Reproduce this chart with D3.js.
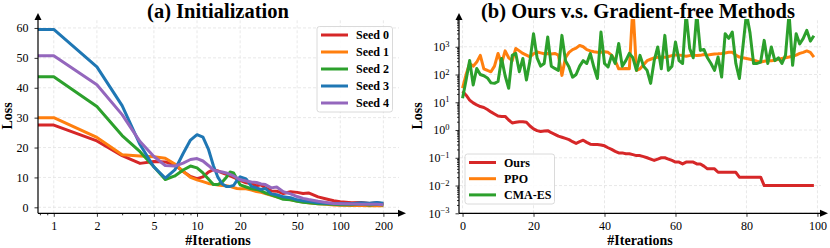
<!DOCTYPE html>
<html>
<head>
<meta charset="utf-8">
<script src="https://cdn.jsdelivr.net/npm/d3@7"></script>
<style>
  body { margin: 0; background: #fff; }
  svg text { font-family: "Liberation Serif", "Times New Roman", serif; fill: #000; }
</style>
</head>
<body>
<div id="chart"></div>
<script>
// ---------- Data: (a) Initialization ----------
const seedIters = [0, 1, 2, 3, 4, 5, 6, 7, 8, 9, 10, 11, 12, 13, 14, 15, 16, 17, 18, 19, 20,
  22, 24, 26, 28, 30, 33, 36, 40, 45, 50, 55, 60, 70, 80, 90, 100, 120, 140, 160, 180, 200];
const seed0 = [27.5, 27.5, 22.2, 17.3, 14.7, 15.3, 15.2, 14.2, 12, 10.3, 9.6, 10.2, 11.8, 12.6, 12.2, 11.5, 11, 10.5, 10, 9.5, 9,
  8.2, 8, 7.2, 7.5, 6.5, 5.5, 5.4, 4.6, 5.2, 5, 4.6, 4.8, 3.5, 2.8, 2.2, 1.9, 1.5, 1.6, 1.3, 1.5, 1.2];
const seed1 = [30, 30, 23.4, 17.6, 17.2, 16.9, 16.4, 14.5, 12, 10, 9.2, 8.6, 8, 7.7, 7.5, 7.3, 7.2, 7, 6.6, 6.3, 6.2,
  6.2, 5.8, 5.3, 5, 4.6, 4, 3.5, 3, 2.5, 2.1, 1.8, 1.5, 1.2, 1, 0.8, 0.7, 0.6, 0.6, 0.5, 0.5, 0.5];
const seed2 = [43.7, 43.7, 33.7, 24, 18.6, 13.6, 9.3, 10.5, 12.5, 13.8, 13.2, 11.5, 9.5, 7.6, 7.6, 8.5, 10, 11.8, 11.5, 9.5, 7.5,
  6.8, 6.2, 6, 5.5, 4.8, 4.2, 3.5, 2.7, 2.5, 2, 1.7, 1.5, 1.2, 1.1, 1, 0.9, 0.9, 1.1, 0.8, 1, 0.8];
const seed3 = [59.5, 59.5, 47, 34, 21, 13.5, 9.8, 12.5, 18, 22.5, 24.3, 23.5, 19.5, 14, 10, 7.8, 7, 7, 7.3, 9, 10.2,
  9.5, 7, 6.5, 6, 6.3, 4.5, 4.2, 3.5, 3.2, 2.5, 2.2, 2, 1.5, 1.4, 1.2, 1.3, 1.2, 1.5, 1.4, 1.6, 1.4];
const seed4 = [50.7, 50.7, 41, 31, 22, 17, 14, 13.8, 14.8, 16, 16.3, 15.5, 14, 12.5, 12, 11.8, 11.5, 11, 10.5, 9.8, 9.2,
  8.8, 8.5, 8.3, 7.8, 7.6, 6.5, 6.8, 5.2, 4.5, 3.6, 3, 2.6, 2, 1.6, 1.3, 1.2, 1.1, 1, 1, 1, 0.9];
const seedNames = ['Seed 0', 'Seed 1', 'Seed 2', 'Seed 3', 'Seed 4'];
const seedTicks = [1, 2, 5, 10, 20, 50, 100, 200];
const lossTicks = [0, 10, 20, 30, 40, 50, 60];

// ---------- Data: (b) Ours v.s. Gradient-free Methods ----------
const oursLoss = [25, 18, 12, 9.5, 8, 7, 6.5, 5.5, 4.5, 3.8, 3.2, 3.1, 3.1, 2.3, 1.8, 1.9, 2.0, 2.0, 1.9, 1.4,
  1.1, 0.95, 0.88, 0.92, 0.95, 0.8, 0.7, 0.6, 0.55, 0.5, 0.45, 0.38, 0.33, 0.38, 0.43, 0.36, 0.31, 0.3, 0.3, 0.29,
  0.27, 0.23, 0.2, 0.17, 0.15, 0.15, 0.14, 0.14, 0.13, 0.12, 0.12, 0.11, 0.1, 0.09, 0.08, 0.09, 0.1, 0.1, 0.09, 0.08,
  0.07, 0.07, 0.06, 0.07, 0.07, 0.07, 0.06, 0.06, 0.05, 0.04, 0.04, 0.04, 0.03, 0.03, 0.03, 0.03, 0.03, 0.03, 0.02, 0.02,
  0.02, 0.02, 0.02, 0.02, 0.02, 0.01, 0.01, 0.01, 0.01, 0.01, 0.01, 0.01, 0.01, 0.01, 0.01, 0.01, 0.01, 0.01, 0.01, 0.01];
const ppoLoss = [32, 100, 250, 200, 280, 490, 160, 140, 125, 200, 575, 250, 710, 400, 315, 870, 710, 575, 500, 435,
  560, 645, 600, 560, 575, 550, 575, 500, 93, 400, 630, 790, 890, 1120, 1000, 790, 710, 660, 630, 630,
  660, 630, 500, 315, 160, 160, 165, 160, 30000, 140, 160, 225, 315, 355, 400, 415, 425, 415, 445, 480,
  500, 500, 480, 455, 480, 500, 480, 490, 525, 500, 525, 550, 560, 575, 600, 630, 630, 500, 425, 400,
  380, 355, 330, 300, 280, 300, 315, 315, 325, 355, 380, 400, 425, 455, 500, 575, 630, 710, 630, 425];
const cmaLoss = [14, 63, 320, 42, 165, 100, 90, 75, 50, 48, 56, 380, 90, 32, 490, 575, 126, 380, 63, 316,
  2950, 400, 200, 250, 2240, 200, 166, 141, 2570, 316, 186, 80, 100, 200, 316, 250, 575, 186, 72, 3390,
  250, 186, 490, 250, 1320, 200, 316, 575, 400, 141, 490, 200, 141, 48, 316, 980, 160, 2570, 141, 200,
  1480, 316, 250, 16000, 870, 400, 16000, 740, 800, 400, 250, 141, 430, 81, 2950, 2000, 3390, 250, 72, 1000,
  16000, 3160, 250, 250, 280, 1700, 250, 980, 316, 400, 250, 500, 16000, 214, 2950, 1260, 2000, 3900, 1600, 2500];
const methodNames = ['Ours', 'PPO', 'CMA-ES'];
const iterTicks = [0, 20, 40, 60, 80, 100];
const logTicks = [1e-3, 1e-2, 1e-1, 1e0, 1e1, 1e2, 1e3];

const seedColors = ['#d62728', '#ff7f0e', '#2ca02c', '#1f77b4', '#9467bd'];
const methodColors = ['#d62728', '#ff7f0e', '#2ca02c'];

const svg = d3.select('#chart')
  .append('svg')
  .attr('width', 830)
  .attr('height', 248);

// Shared helpers
function drawGrid(g, x, y, xt, yt) {
  const [x0, x1] = x.range();
  const [y0, y1] = y.range();
  g.append('g').selectAll('line').data(xt).enter().append('line')
    .attr('x1', d => x(d)).attr('x2', d => x(d)).attr('y1', y0).attr('y2', y1)
    .attr('stroke', '#e2e2e2').attr('stroke-width', 0.8).attr('stroke-dasharray', '3,2');
  g.append('g').selectAll('line').data(yt).enter().append('line')
    .attr('x1', x0).attr('x2', x1).attr('y1', d => y(d)).attr('y2', d => y(d))
    .attr('stroke', '#e2e2e2').attr('stroke-width', 0.8).attr('stroke-dasharray', '3,2');
}

function drawSpines(g, x, y) {
  const [x0, x1] = x.range();
  const [y0, y1] = y.range();
  g.append('line').attr('x1', x0).attr('x2', x1).attr('y1', y0).attr('y2', y0)
    .attr('stroke', '#000').attr('stroke-width', 1.2);
  g.append('line').attr('x1', x0).attr('x2', x0).attr('y1', y0).attr('y2', y1)
    .attr('stroke', '#000').attr('stroke-width', 1.2);
  // arrow heads
  g.append('path').attr('d', `M${x1 + 7},${y0} L${x1 - 1},${y0 - 3.5} L${x1 - 1},${y0 + 3.5} Z`).attr('fill', '#000');
  g.append('path').attr('d', `M${x0},${y1 - 6} L${x0 - 3.5},${y1 + 1} L${x0 + 3.5},${y1 + 1} Z`).attr('fill', '#000');
}

function styleAxis(g) {
  g.select('.domain').remove();
  g.selectAll('.tick line').attr('stroke', '#000').attr('stroke-width', 0.8);
  g.selectAll('.tick text').style('font-size', '12px').style('font-family', '"Liberation Serif", serif');
}

function drawLegend(g, x, y, w, h, names, colors, step) {
  g.append('rect').attr('x', x).attr('y', y).attr('width', w).attr('height', h)
    .attr('rx', 2.5).attr('fill', 'rgba(255,255,255,0.85)').attr('stroke', '#d0d0d0').attr('stroke-width', 0.8);
  const entries = g.selectAll('.entry').data(names).enter().append('g')
    .attr('transform', (d, i) => `translate(${x + 4}, ${y + 8.5 + i * step})`);
  entries.append('line').attr('x1', 0).attr('x2', 27).attr('y1', 0).attr('y2', 0)
    .attr('stroke', (d, i) => colors[i]).attr('stroke-width', 3);
  entries.append('text').attr('x', 35).attr('y', 4.2)
    .style('font-size', '12px').style('font-weight', 'bold').text(d => d);
}

// ---------- Panel (a) ----------
(function panelA() {
  const g = svg.append('g');
  const x = d3.scaleLog().domain([0.776, 257]).range([38, 399]);
  const y = d3.scaleLinear().domain([-2, 63]).range([213.3, 19]);

  drawGrid(g, x, y, seedTicks, lossTicks);

  g.append('clipPath').attr('id', 'clipA').append('rect')
    .attr('x', 38).attr('y', 19).attr('width', 361).attr('height', 194.3);

  // iteration 0 sits at -inf on a log axis, so it is pinned to the left edge
  const line = d3.line()
    .x(d => d[0] === 0 ? x.range()[0] : x(d[0]))
    .y(d => y(d[1]));

  const seeds = [seed0, seed1, seed2, seed3, seed4];
  g.append('g').attr('clip-path', 'url(#clipA)')
    .selectAll('path').data(seeds).enter().append('path')
    .attr('fill', 'none')
    .attr('stroke', (d, i) => seedColors[i])
    .attr('stroke-width', 3)
    .attr('stroke-linejoin', 'round')
    .attr('d', d => line(seedIters.map((it, j) => [it, d[j]])));

  // minor ticks
  const minor = [0.8, 0.9, 3, 4, 6, 7, 8, 9, 30, 40, 60, 70, 80, 90];
  const minorAx = g.append('g').attr('transform', 'translate(0,213.3)')
    .call(d3.axisBottom(x).tickValues(minor).tickFormat('').tickSize(2));
  styleAxis(minorAx);

  const xAx = g.append('g').attr('transform', 'translate(0,213.3)')
    .call(d3.axisBottom(x).tickValues(seedTicks).tickFormat(d3.format('d')).tickSize(3.5).tickPadding(5));
  styleAxis(xAx);

  const yAx = g.append('g').attr('transform', 'translate(38,0)')
    .call(d3.axisLeft(y).tickValues(lossTicks).tickSize(3.5).tickPadding(6));
  styleAxis(yAx);

  drawSpines(g, x, y);

  g.append('text').attr('x', 218).attr('y', 17.5).attr('text-anchor', 'middle')
    .style('font-size', '20.5px').style('font-weight', 'bold').text('(a) Initialization');
  g.append('text').attr('x', 218).attr('y', 245).attr('text-anchor', 'middle')
    .style('font-size', '14px').style('font-weight', 'bold').text('#Iterations');
  g.append('text').attr('transform', 'translate(12,116) rotate(-90)').attr('text-anchor', 'middle')
    .style('font-size', '14px').style('font-weight', 'bold').text('Loss');

  drawLegend(g, 317, 26.5, 75.5, 85.5, seedNames, seedColors, 17);
})();

// ---------- Panel (b) ----------
(function panelB() {
  const g = svg.append('g');
  const x = d3.scaleLinear().domain([-1, 101]).range([459, 821]);
  const y = d3.scaleLog().domain([1e-3, 1e4]).range([213.3, 19]);

  drawGrid(g, x, y, iterTicks, logTicks);

  g.append('clipPath').attr('id', 'clipB').append('rect')
    .attr('x', 459).attr('y', 19).attr('width', 362).attr('height', 194.3);

  const line = d3.line()
    .x((d, i) => x(i))
    .y(d => y(d));

  const series = [oursLoss, ppoLoss, cmaLoss];
  g.append('g').attr('clip-path', 'url(#clipB)')
    .selectAll('path').data(series).enter().append('path')
    .attr('fill', 'none')
    .attr('stroke', (d, i) => methodColors[i])
    .attr('stroke-width', 3)
    .attr('stroke-linejoin', 'round')
    .attr('d', d => line(d));

  // minor log ticks
  const minor = [];
  logTicks.forEach(b => { for (let k = 2; k <= 9; k++) minor.push(b * k); });
  const minorAx = g.append('g').attr('transform', 'translate(459,0)')
    .call(d3.axisLeft(y).tickValues(minor).tickFormat('').tickSize(2));
  styleAxis(minorAx);

  const xAx = g.append('g').attr('transform', 'translate(0,213.3)')
    .call(d3.axisBottom(x).tickValues(iterTicks).tickFormat(d3.format('d')).tickSize(3.5).tickPadding(5));
  styleAxis(xAx);

  const yAx = g.append('g').attr('transform', 'translate(459,0)')
    .call(d3.axisLeft(y).tickValues(logTicks).tickFormat('').tickSize(3.5).tickPadding(6));
  styleAxis(yAx);
  yAx.selectAll('.tick text').each(function(d) {
    const t = d3.select(this);
    const e = Math.round(Math.log10(d));
    t.append('tspan').text('10');
    t.append('tspan').attr('dy', '-0.5em').style('font-size', '8.5px')
      .text(e < 0 ? '\u2212' + (-e) : String(e));
  });

  drawSpines(g, x, y);

  g.append('text').attr('x', 638).attr('y', 17.5).attr('text-anchor', 'middle')
    .style('font-size', '20.5px').style('font-weight', 'bold').text('(b) Ours v.s. Gradient-free Methods');
  g.append('text').attr('x', 640).attr('y', 245).attr('text-anchor', 'middle')
    .style('font-size', '14px').style('font-weight', 'bold').text('#Iterations');
  g.append('text').attr('transform', 'translate(422,116) rotate(-90)').attr('text-anchor', 'middle')
    .style('font-size', '14px').style('font-weight', 'bold').text('Loss');

  drawLegend(g, 465, 154, 89.5, 50, methodNames, methodColors, 16.2);
})();
</script>
</body>
</html>
